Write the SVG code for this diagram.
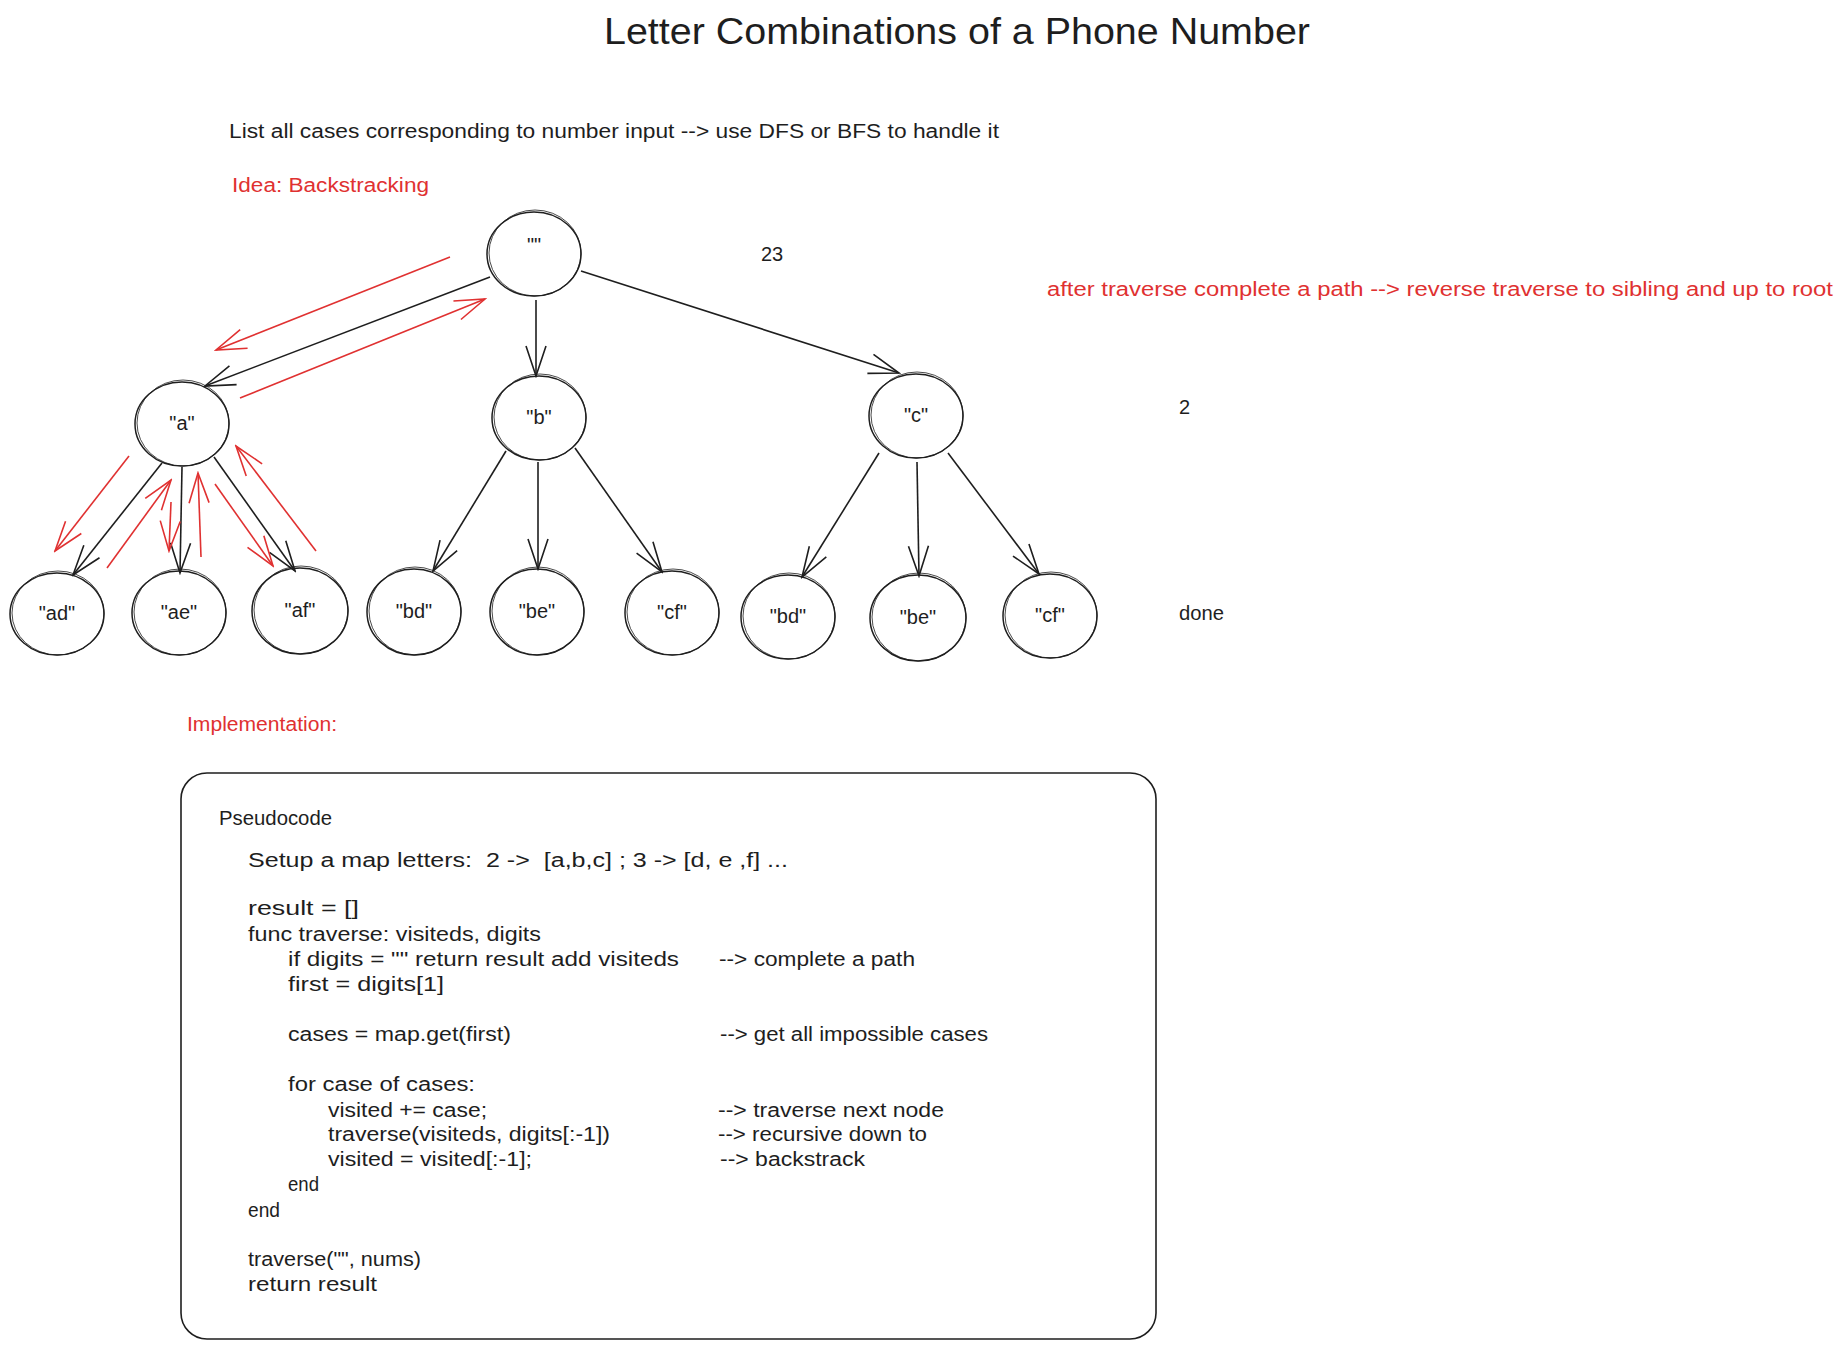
<svg xmlns="http://www.w3.org/2000/svg" width="1845" height="1350" viewBox="0 0 1845 1350">
<style>
text{font-family:"Liberation Sans","DejaVu Sans",sans-serif;fill:#1e1e1e;font-size:20px}
.red{fill:#e03131}
.title{font-size:36px}
.lbl{text-anchor:middle;font-size:20px}
.pre{white-space:pre}
.n1{fill:none;stroke:#1e1e1e;stroke-width:1.5}
.n2{fill:none;stroke:#1e1e1e;stroke-width:1;opacity:0.8}
.cb{fill:none;stroke:#1e1e1e;stroke-width:1.6;marker-end:url(#ahb)}
.cr{fill:none;stroke:#e03131;stroke-width:1.6;marker-end:url(#ahr)}
.box{fill:none;stroke:#1e1e1e;stroke-width:1.6}
</style>
<defs>
<marker id="ahb" viewBox="-32 -12 34 24" refX="0" refY="0" markerWidth="34" markerHeight="24" orient="auto" markerUnits="userSpaceOnUse"><path d="M-30,-10 L0,0 L-30,10" fill="none" stroke="#1e1e1e" stroke-width="1.6"/></marker>
<marker id="ahr" viewBox="-32 -12 34 24" refX="0" refY="0" markerWidth="34" markerHeight="24" orient="auto" markerUnits="userSpaceOnUse"><path d="M-30,-10 L0,0 L-30,10" fill="none" stroke="#e03131" stroke-width="1.6"/></marker>
</defs>
<rect width="1845" height="1350" fill="#ffffff"/>

<g id="annotations">
<text class="title" x="604" y="44" textLength="706" lengthAdjust="spacingAndGlyphs">Letter Combinations of a Phone Number</text>
<text x="229" y="138" textLength="770" lengthAdjust="spacingAndGlyphs">List all cases corresponding to number input --&gt; use DFS or BFS to handle it</text>
<text class="red" x="232" y="192" textLength="197" lengthAdjust="spacingAndGlyphs">Idea: Backstracking</text>
<text x="761" y="261">23</text>
<text class="red" x="1047" y="296" textLength="786" lengthAdjust="spacingAndGlyphs">after traverse complete a path --&gt; reverse traverse to sibling and up to root</text>
<text x="1179" y="414">2</text>
<text x="1179" y="620" textLength="45" lengthAdjust="spacingAndGlyphs">done</text>
<text class="red" x="187" y="731" font-size="18" textLength="150" lengthAdjust="spacingAndGlyphs">Implementation:</text>
</g>

<g id="connectors">
<path class="cb" d="M490,277 L205,386"/>
<path class="cb" d="M536,300 L536,376"/>
<path class="cb" d="M581,271 L899,373"/>
<path class="cb" d="M162,463 L73,575"/>
<path class="cb" d="M182,467 L180,573"/>
<path class="cb" d="M214,457 L295,571"/>
<path class="cb" d="M506,451 L433,571"/>
<path class="cb" d="M538,462 L538,569"/>
<path class="cb" d="M575,448 L662,572"/>
<path class="cb" d="M879,453 L802,577"/>
<path class="cb" d="M917,462 L919,576"/>
<path class="cb" d="M948,453 L1039,574"/>
<path class="cr" d="M450,257 L216,350"/>
<path class="cr" d="M240,398 L485,299"/>
<path class="cr" d="M129,456 L55,551"/>
<path class="cr" d="M107,568 L171,480"/>
<path class="cr" d="M171,502 L169,551"/>
<path class="cr" d="M201,557 L198,473"/>
<path class="cr" d="M215,484 L273,566"/>
<path class="cr" d="M316,551 L236,446"/>
</g>

<g id="node-root"><ellipse class="n1" cx="534" cy="254" rx="47" ry="42"/><ellipse class="n2" cx="535" cy="253" rx="46" ry="43"/><text class="lbl" x="534" y="252">""</text></g>
<g id="node-a"><ellipse class="n1" cx="182" cy="424" rx="47" ry="42"/><ellipse class="n2" cx="183" cy="423" rx="46" ry="43"/><text class="lbl" x="182" y="430">"a"</text></g>
<g id="node-b"><ellipse class="n1" cx="539" cy="418" rx="47" ry="42"/><ellipse class="n2" cx="540" cy="417" rx="46" ry="43"/><text class="lbl" x="539" y="424">"b"</text></g>
<g id="node-c"><ellipse class="n1" cx="916" cy="416" rx="47" ry="42"/><ellipse class="n2" cx="917" cy="415" rx="46" ry="43"/><text class="lbl" x="916" y="422">"c"</text></g>
<g id="node-ad"><ellipse class="n1" cx="57" cy="614" rx="47" ry="41"/><ellipse class="n2" cx="58" cy="613" rx="46" ry="42"/><text class="lbl" x="57" y="620">"ad"</text></g>
<g id="node-ae"><ellipse class="n1" cx="179" cy="613" rx="47" ry="42"/><ellipse class="n2" cx="180" cy="612" rx="46" ry="43"/><text class="lbl" x="179" y="619">"ae"</text></g>
<g id="node-af"><ellipse class="n1" cx="300" cy="611" rx="48" ry="43"/><ellipse class="n2" cx="301" cy="610" rx="47" ry="44"/><text class="lbl" x="300" y="617">"af"</text></g>
<g id="node-bd1"><ellipse class="n1" cx="414" cy="612" rx="47" ry="43"/><ellipse class="n2" cx="415" cy="611" rx="46" ry="44"/><text class="lbl" x="414" y="618">"bd"</text></g>
<g id="node-be1"><ellipse class="n1" cx="537" cy="612" rx="47" ry="43"/><ellipse class="n2" cx="538" cy="611" rx="46" ry="44"/><text class="lbl" x="537" y="618">"be"</text></g>
<g id="node-cf1"><ellipse class="n1" cx="672" cy="613" rx="47" ry="42"/><ellipse class="n2" cx="673" cy="612" rx="46" ry="43"/><text class="lbl" x="672" y="619">"cf"</text></g>
<g id="node-bd2"><ellipse class="n1" cx="788" cy="617" rx="47" ry="42"/><ellipse class="n2" cx="789" cy="616" rx="46" ry="43"/><text class="lbl" x="788" y="623">"bd"</text></g>
<g id="node-be2"><ellipse class="n1" cx="918" cy="618" rx="48" ry="43"/><ellipse class="n2" cx="919" cy="617" rx="47" ry="44"/><text class="lbl" x="918" y="624">"be"</text></g>
<g id="node-cf2"><ellipse class="n1" cx="1050" cy="616" rx="47" ry="42"/><ellipse class="n2" cx="1051" cy="615" rx="46" ry="43"/><text class="lbl" x="1050" y="622">"cf"</text></g>

<g id="pseudocode">
<rect class="box" x="181" y="773" width="975" height="566" rx="26" ry="26"/>
<text x="219" y="825" textLength="113" lengthAdjust="spacingAndGlyphs">Pseudocode</text>
<text class="pre" x="248" y="867" textLength="540" lengthAdjust="spacingAndGlyphs">Setup a map letters:  2 -&gt;  [a,b,c] ; 3 -&gt; [d, e ,f] ...</text>
<text x="248" y="915" textLength="111" lengthAdjust="spacingAndGlyphs">result = []</text>
<text x="248" y="941" textLength="293" lengthAdjust="spacingAndGlyphs">func traverse: visiteds, digits</text>
<text x="288" y="966" textLength="391" lengthAdjust="spacingAndGlyphs">if digits = "" return result add visiteds</text>
<text x="719" y="966" textLength="196" lengthAdjust="spacingAndGlyphs">--&gt; complete a path</text>
<text x="288" y="991" textLength="156" lengthAdjust="spacingAndGlyphs">first = digits[1]</text>
<text x="288" y="1041" textLength="223" lengthAdjust="spacingAndGlyphs">cases = map.get(first)</text>
<text x="720" y="1041" textLength="268" lengthAdjust="spacingAndGlyphs">--&gt; get all impossible cases</text>
<text x="288" y="1091" textLength="187" lengthAdjust="spacingAndGlyphs">for case of cases:</text>
<text x="328" y="1117" textLength="159" lengthAdjust="spacingAndGlyphs">visited += case;</text>
<text x="718" y="1117" textLength="226" lengthAdjust="spacingAndGlyphs">--&gt; traverse next node</text>
<text x="328" y="1141" textLength="282" lengthAdjust="spacingAndGlyphs">traverse(visiteds, digits[:-1])</text>
<text x="718" y="1141" textLength="209" lengthAdjust="spacingAndGlyphs">--&gt; recursive down to</text>
<text x="328" y="1166" textLength="204" lengthAdjust="spacingAndGlyphs">visited = visited[:-1];</text>
<text x="720" y="1166" textLength="145" lengthAdjust="spacingAndGlyphs">--&gt; backstrack</text>
<text x="288" y="1191" textLength="31" lengthAdjust="spacingAndGlyphs">end</text>
<text x="248" y="1217" textLength="32" lengthAdjust="spacingAndGlyphs">end</text>
<text x="248" y="1266" textLength="173" lengthAdjust="spacingAndGlyphs">traverse("", nums)</text>
<text x="248" y="1291" textLength="129" lengthAdjust="spacingAndGlyphs">return result</text>
</g>
</svg>
